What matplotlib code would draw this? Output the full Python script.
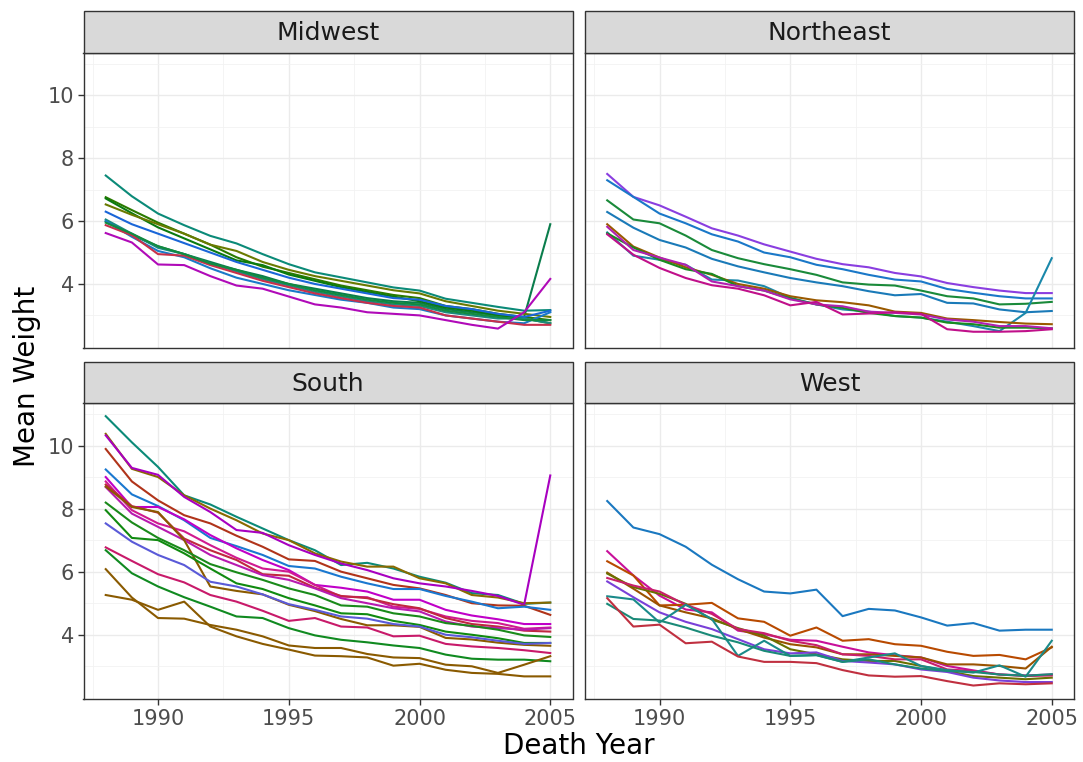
import matplotlib
matplotlib.use("Agg")
import matplotlib.pyplot as plt
from matplotlib.patches import Rectangle
import numpy as np

years = list(range(1988, 2006))

midwest = [
    [7.45, 6.79, 6.24, 5.87, 5.53, 5.29, 4.95, 4.63, 4.37, 4.21, 4.05, 3.89, 3.79, 3.53, 3.40, 3.27, 3.15, 3.17],
    [6.00, 5.55, 5.20, 4.95, 4.70, 4.45, 4.25, 4.00, 3.85, 3.70, 3.55, 3.45, 3.40, 3.20, 3.10, 3.00, 2.95, 5.90],
    [6.76, 6.35, 5.95, 5.60, 5.25, 4.85, 4.55, 4.35, 4.15, 3.95, 3.80, 3.65, 3.55, 3.30, 3.20, 3.05, 2.95, 2.85],
    [6.72, 6.25, 5.80, 5.45, 5.10, 4.75, 4.60, 4.30, 4.10, 3.90, 3.75, 3.60, 3.45, 3.25, 3.15, 3.00, 2.90, 2.75],
    [6.53, 6.20, 5.90, 5.60, 5.25, 5.05, 4.70, 4.45, 4.25, 4.10, 3.95, 3.80, 3.70, 3.45, 3.30, 3.15, 3.05, 2.95],
    [6.30, 5.90, 5.60, 5.30, 5.00, 4.70, 4.45, 4.20, 4.00, 3.85, 3.70, 3.55, 3.50, 3.30, 3.20, 3.05, 2.95, 3.15],
    [6.05, 5.60, 5.15, 4.95, 4.65, 4.40, 4.15, 3.95, 3.75, 3.60, 3.45, 3.35, 3.30, 3.10, 3.00, 2.90, 2.90, 2.75],
    [6.00, 5.50, 5.05, 4.85, 4.50, 4.20, 4.00, 3.80, 3.65, 3.50, 3.40, 3.25, 3.20, 3.00, 2.90, 2.80, 2.75, 3.10],
    [5.87, 5.55, 4.95, 4.90, 4.60, 4.35, 4.10, 3.90, 3.70, 3.55, 3.40, 3.30, 3.25, 3.00, 2.90, 2.80, 2.70, 2.70],
    [5.95, 5.60, 5.20, 4.95, 4.65, 4.45, 4.20, 4.00, 3.80, 3.65, 3.50, 3.40, 3.35, 3.15, 3.05, 2.95, 2.85, 2.85],
    [5.62, 5.32, 4.62, 4.60, 4.25, 3.95, 3.85, 3.60, 3.35, 3.25, 3.10, 3.05, 3.00, 2.85, 2.70, 2.58, 3.10, 4.16],
]
midwest_colors = ["#0b8a78", "#0a7d4c", "#2a7a00", "#0a7a10", "#6a7a00", "#1a66d8",
                  "#1a8a80", "#1a7ac8", "#c8304a", "#128a40", "#b00ab8"]

northeast = [
    [7.50, 6.77, 6.50, 6.14, 5.77, 5.54, 5.26, 5.03, 4.80, 4.63, 4.53, 4.35, 4.24, 4.03, 3.90, 3.79, 3.71, 3.71],
    [7.30, 6.77, 6.24, 5.93, 5.58, 5.35, 5.00, 4.85, 4.61, 4.47, 4.29, 4.14, 4.08, 3.84, 3.72, 3.61, 3.54, 3.54],
    [6.66, 6.05, 5.93, 5.54, 5.08, 4.82, 4.63, 4.47, 4.29, 4.05, 3.98, 3.95, 3.79, 3.61, 3.54, 3.35, 3.37, 3.43],
    [6.29, 5.79, 5.40, 5.16, 4.80, 4.56, 4.37, 4.19, 4.05, 3.93, 3.77, 3.64, 3.68, 3.40, 3.38, 3.19, 3.10, 3.14],
    [5.64, 4.90, 4.77, 4.61, 4.14, 4.11, 3.93, 3.56, 3.35, 3.19, 3.12, 2.98, 2.93, 2.80, 2.66, 2.50, 3.08, 4.82],
    [5.90, 5.19, 4.84, 4.53, 4.29, 4.00, 3.85, 3.61, 3.48, 3.42, 3.32, 3.12, 3.08, 2.90, 2.85, 2.79, 2.74, 2.72],
    [5.61, 5.16, 4.77, 4.47, 4.32, 3.93, 3.79, 3.54, 3.35, 3.24, 3.08, 2.98, 2.93, 2.77, 2.72, 2.61, 2.61, 2.59],
    [5.82, 5.08, 4.84, 4.61, 4.08, 3.93, 3.79, 3.51, 3.35, 3.29, 3.12, 3.08, 3.03, 2.87, 2.80, 2.66, 2.66, 2.59],
    [5.58, 4.93, 4.51, 4.19, 3.96, 3.85, 3.64, 3.32, 3.43, 3.03, 3.06, 3.10, 3.05, 2.56, 2.48, 2.48, 2.50, 2.56],
]
northeast_colors = ["#8a3ee0", "#1a78c8", "#1a8a3a", "#1a7ab8", "#1a88aa", "#9a5a00",
                    "#1a8a20", "#b020b0", "#c0108a"]

south = [
    [10.93, 10.10, 9.32, 8.42, 8.13, 7.74, 7.37, 7.00, 6.68, 6.21, 6.28, 6.10, 5.84, 5.65, 5.32, 5.26, 4.98, 5.02],
    [10.37, 9.26, 9.00, 8.42, 8.00, 7.63, 7.21, 7.00, 6.58, 6.32, 6.16, 6.16, 5.79, 5.63, 5.26, 5.18, 5.00, 5.02],
    [10.32, 9.29, 9.07, 8.37, 7.89, 7.32, 7.23, 6.84, 6.53, 6.26, 6.05, 5.79, 5.63, 5.53, 5.39, 5.23, 4.95, 9.05],
    [9.89, 8.86, 8.26, 7.79, 7.53, 7.14, 6.79, 6.39, 6.34, 6.00, 5.79, 5.58, 5.47, 5.26, 5.00, 4.93, 4.92, 4.63],
    [9.24, 8.45, 8.08, 7.63, 7.07, 6.81, 6.53, 6.18, 6.10, 5.84, 5.63, 5.45, 5.45, 5.23, 5.05, 4.84, 4.89, 4.79],
    [9.00, 8.05, 8.05, 7.66, 7.16, 6.74, 6.37, 6.05, 5.58, 5.49, 5.37, 5.11, 5.11, 4.79, 4.61, 4.49, 4.34, 4.34],
    [8.86, 7.95, 7.53, 7.28, 6.84, 6.44, 6.10, 6.00, 5.58, 5.21, 5.19, 4.89, 4.82, 4.58, 4.44, 4.37, 4.19, 4.23],
    [8.76, 8.08, 7.87, 7.05, 6.68, 6.37, 5.92, 5.87, 5.49, 5.23, 5.16, 4.97, 4.84, 4.53, 4.34, 4.26, 4.13, 4.10],
    [8.68, 7.84, 7.42, 7.00, 6.53, 6.21, 5.89, 5.74, 5.47, 5.16, 5.00, 4.84, 4.74, 4.42, 4.26, 4.21, 4.16, 4.21],
    [8.70, 8.05, 7.89, 7.00, 5.53, 5.39, 5.28, 4.95, 4.75, 4.50, 4.30, 4.30, 4.25, 3.90, 3.85, 3.75, 3.68, 3.65],
    [8.19, 7.56, 7.07, 6.68, 6.24, 5.98, 5.74, 5.47, 5.26, 4.93, 4.89, 4.68, 4.58, 4.37, 4.28, 4.16, 3.98, 3.93],
    [7.95, 7.07, 7.00, 6.58, 6.10, 5.63, 5.45, 5.16, 4.93, 4.68, 4.65, 4.44, 4.31, 4.10, 4.00, 3.89, 3.74, 3.74],
    [7.53, 6.95, 6.53, 6.21, 5.68, 5.53, 5.28, 4.97, 4.79, 4.58, 4.51, 4.34, 4.26, 4.00, 3.92, 3.81, 3.71, 3.74],
    [6.77, 6.34, 5.92, 5.66, 5.26, 5.05, 4.76, 4.44, 4.53, 4.26, 4.23, 3.95, 3.97, 3.71, 3.63, 3.58, 3.51, 3.42],
    [6.68, 5.95, 5.53, 5.19, 4.89, 4.58, 4.53, 4.21, 3.98, 3.84, 3.76, 3.66, 3.58, 3.37, 3.24, 3.21, 3.21, 3.16],
    [6.08, 5.18, 4.53, 4.51, 4.31, 4.16, 3.95, 3.66, 3.58, 3.58, 3.39, 3.28, 3.26, 3.05, 3.00, 2.79, 3.05, 3.32],
    [5.26, 5.11, 4.79, 5.05, 4.26, 3.95, 3.71, 3.53, 3.34, 3.32, 3.28, 3.02, 3.08, 2.89, 2.79, 2.76, 2.68, 2.68],
]
south_colors = ["#0b8a78", "#8a6a00", "#a800c0", "#b0341a", "#1a78d0", "#c000c8",
                "#d01a90", "#c02840", "#b81ab0", "#8a5a00", "#1a8a1a", "#108a10",
                "#5a5ad8", "#c81a6a", "#108a20", "#8a5a00", "#8a5a00"]

west = [
    [8.24, 7.40, 7.19, 6.79, 6.22, 5.76, 5.37, 5.31, 5.43, 4.59, 4.82, 4.77, 4.55, 4.29, 4.37, 4.13, 4.16, 4.16],
    [6.65, 5.88, 5.24, 4.80, 4.71, 4.13, 4.02, 3.84, 3.81, 3.62, 3.44, 3.35, 3.28, 3.01, 2.87, 2.74, 2.71, 2.74],
    [6.33, 5.88, 4.93, 4.95, 5.01, 4.52, 4.41, 3.97, 4.23, 3.81, 3.86, 3.70, 3.65, 3.46, 3.33, 3.36, 3.22, 3.60],
    [5.97, 5.46, 4.93, 4.71, 4.52, 4.18, 3.91, 3.70, 3.60, 3.38, 3.38, 3.33, 3.28, 3.06, 3.06, 3.01, 2.93, 3.62],
    [5.94, 5.51, 5.30, 4.98, 4.48, 4.21, 3.97, 3.54, 3.38, 3.22, 3.17, 3.17, 3.01, 2.85, 2.69, 2.64, 2.59, 2.64],
    [5.80, 5.56, 5.37, 4.95, 4.66, 4.18, 4.05, 3.81, 3.67, 3.38, 3.33, 3.22, 3.22, 2.90, 2.85, 2.74, 2.69, 2.71],
    [5.69, 5.19, 4.71, 4.41, 4.18, 3.86, 3.54, 3.41, 3.44, 3.17, 3.12, 3.06, 2.90, 2.82, 2.64, 2.55, 2.50, 2.50],
    [5.22, 5.12, 4.39, 4.95, 4.50, 3.33, 3.81, 3.33, 3.35, 3.14, 3.28, 3.41, 3.01, 2.88, 2.80, 3.03, 2.67, 3.81],
    [4.98, 4.50, 4.45, 4.23, 3.97, 3.76, 3.49, 3.33, 3.36, 3.14, 3.22, 3.06, 2.93, 2.85, 2.82, 2.74, 2.70, 2.75],
    [5.16, 4.26, 4.32, 3.73, 3.78, 3.31, 3.14, 3.14, 3.10, 2.88, 2.71, 2.67, 2.69, 2.53, 2.39, 2.46, 2.43, 2.46],
]
west_colors = ["#1a78c0", "#c8109a", "#b84a00", "#9a5200", "#6a7000", "#c8206a",
               "#7a40d8", "#1a8a8a", "#1a8a78", "#c03040"]

W, H = 1083, 762


def box(x0, y0, x1, y1):
    return [x0 / W, 1 - y1 / H, (x1 - x0) / W, (y1 - y0) / H]


fig = plt.figure(figsize=(W / 100, H / 100), dpi=100)

panels = [
    ("Midwest", midwest, midwest_colors, 83.5, 572.5, 11, 52.7, 348, True, False),
    ("Northeast", northeast, northeast_colors, 585, 1074, 11, 52.7, 348, False, False),
    ("South", south, south_colors, 83.5, 572.5, 362, 402.7, 699, True, True),
    ("West", west, west_colors, 585, 1074, 362, 402.7, 699, False, True),
]

all_vals = np.concatenate([np.ravel(p[1]) for p in panels])
lo, hi = all_vals.min(), all_vals.max()
pad = (hi - lo) * 0.05
ylim = (lo - pad, hi + pad)
xlim = (years[0] - 0.85, years[-1] + 0.85)

for name, lines, cols, x0, x1, st, yt, yb, show_y, show_x in panels:
    ax = fig.add_axes(box(x0, yt, x1, yb))
    for vals, c in zip(lines, cols):
        ax.plot(years, vals, color=c, lw=1.5, solid_joinstyle="round")
    ax.set_xlim(xlim)
    ax.set_ylim(ylim)
    ax.set_xticks([1990, 1995, 2000, 2005])
    ax.set_yticks([4, 6, 8, 10])
    ax.set_xticks([1987.5, 1992.5, 1997.5, 2002.5], minor=True)
    ax.set_yticks([3, 5, 7, 9, 11], minor=True)
    ax.grid(True, which="major", color="#ebebeb", lw=1.0)
    ax.grid(True, which="minor", color="#f2f2f2", lw=0.6)
    ax.set_axisbelow(True)
    for s in ax.spines.values():
        s.set_color("#333333")
        s.set_linewidth(1.0)
    ax.tick_params(which="minor", length=0)
    ax.tick_params(which="major", length=4, width=1, color="#333333",
                   labelsize=15, labelcolor="#4d4d4d", pad=3)
    if not show_y:
        ax.tick_params(axis="y", which="major", length=0, labelleft=False)
    if not show_x:
        ax.tick_params(axis="x", which="major", length=0, labelbottom=False)

    sax = fig.add_axes(box(x0, st, x1, yt))
    sax.set_xlim(0, 1)
    sax.set_ylim(0, 1)
    sax.axis("off")
    sax.add_patch(Rectangle((0, 0), 1, 1, facecolor="#d9d9d9", edgecolor="#333333",
                            lw=1.0, transform=sax.transAxes, clip_on=False))
    sax.text(0.5, 0.47, name, ha="center", va="center", fontsize=18, color="#1a1a1a")

fig.text(579 / W, 1 - 746 / H, "Death Year", ha="center", va="center", fontsize=20)
fig.text(27 / W, 1 - 376 / H, "Mean Weight", ha="center", va="center",
         fontsize=20, rotation=90)

fig.savefig("out.png", dpi=100, facecolor="white")
